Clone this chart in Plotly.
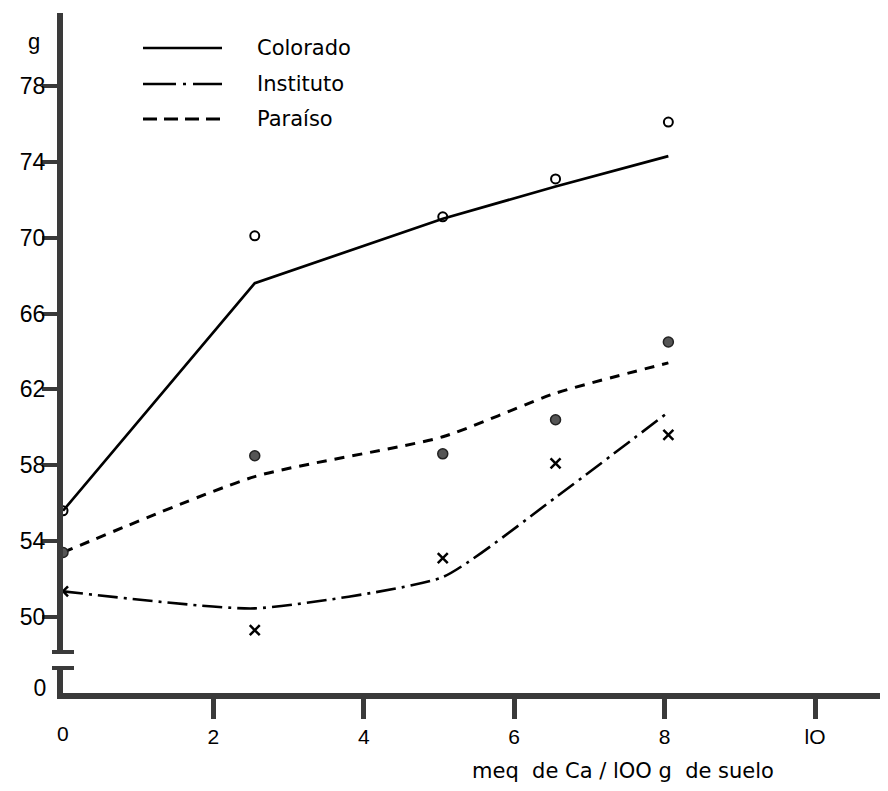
import plotly.graph_objects as go

# ---- data ----
x_obs = [0, 2.55, 5.05, 6.55, 8.05]

colorado_obs = [55.6, 70.1, 71.1, 73.1, 76.1]
colorado_fit = [55.6, 67.6, 71.0, 72.7, 74.3]

instituto_obs = [51.35, 49.3, 53.1, 58.1, 59.6]
instituto_fit = [51.35, 50.45, 52.1, 56.3, 60.8]

paraiso_obs = [53.4, 58.5, 58.6, 60.4, 64.5]
paraiso_fit = [53.4, 57.4, 59.5, 61.8, 63.4]

series_names = ["Colorado", "Instituto", "Paraíso"]
y_ticks = [50, 54, 58, 62, 66, 70, 74, 78]
x_ticks = [2, 4, 6, 8, 10]
x_tick_labels = ["2", "4", "6", "8", "lO"]
x_zero_label = "0"
y_break_ticks = [0]
x_title = "meq  de Ca / lOO g  de suelo"
y_title = "g"

# ---- styling / geometry (reference pixel space, page has 8px body margin) ----
FONT = "Liberation Sans, Arial, sans-serif"
TFONT = "DejaVu Sans, Liberation Sans, sans-serif"
AXC = "#3a3a3a"
OFF = 8
W, H = 888 - OFF, 791 - OFF
PLOT_LEFT, PLOT_TOP, PLOT_BOTTOM = 63, 13, 693          # reference pixels
L = PLOT_LEFT - OFF
T = PLOT_TOP - OFF
B = H - (PLOT_BOTTOM - OFF)
R = 0
plot_w = W - L - R
plot_h = H - T - B
px_per_x = 75.2
y_up_lo, y_up_hi = 48.15, 81.85

def py(pix):  # reference pixel y -> paper
    return (PLOT_BOTTOM - pix) / plot_h

def px(pix):  # reference pixel x -> paper
    return (pix - PLOT_LEFT) / plot_w

fig = go.Figure()

DASH_INST = "20px,6px,3px,6px"
DASH_PAR = "10px,8px"
LEG_DASH_INST = "33px,7px,3px,7px,40px"
LEG_DASH_PAR = "14px,7px"

fig.add_trace(go.Scatter(x=x_obs, y=colorado_fit, mode="lines",
                         line=dict(color="black", width=2.7), showlegend=False))
fig.add_trace(go.Scatter(x=x_obs, y=paraiso_fit, mode="lines",
                         line=dict(color="black", width=3, dash=DASH_PAR, shape="spline", smoothing=0.6),
                         showlegend=False))
fig.add_trace(go.Scatter(x=x_obs, y=instituto_fit, mode="lines",
                         line=dict(color="black", width=2.6, dash=DASH_INST, shape="spline", smoothing=0.5),
                         showlegend=False))

fig.add_trace(go.Scatter(x=x_obs, y=colorado_obs, mode="markers", name=series_names[0],
                         marker=dict(symbol="circle-open", size=9, color="black", line=dict(width=2)),
                         showlegend=False))
fig.add_trace(go.Scatter(x=x_obs, y=paraiso_obs, mode="markers", name=series_names[2],
                         marker=dict(symbol="circle", size=10, color="#555555", line=dict(width=1.5, color="#222222")),
                         showlegend=False))
fig.add_trace(go.Scatter(x=x_obs, y=instituto_obs, mode="markers", name=series_names[1],
                         marker=dict(symbol="x-thin", size=10, color="black", line=dict(width=2.5, color="black")),
                         showlegend=False))
# empty helper trace so that the lower (broken) y-axis segment exists
fig.add_trace(go.Scatter(x=[None], y=[None], xaxis="x", yaxis="y2", mode="markers",
                         showlegend=False, hoverinfo="skip"))

fig.update_layout(
    width=W, height=H,
    margin=dict(l=L, r=R, t=T, b=B, autoexpand=False),
    paper_bgcolor="white", plot_bgcolor="white",
    font=dict(family=FONT, color="black"),
    showlegend=False,
    xaxis=dict(range=[0, plot_w / px_per_x], anchor="y2", showgrid=False, zeroline=False,
               showline=True, linecolor=AXC, linewidth=6,
               tickmode="array", tickvals=x_ticks, ticktext=x_tick_labels,
               ticks="outside", ticklen=20, tickwidth=5, tickcolor=AXC,
               tickfont=dict(size=21, family=FONT)),
    yaxis=dict(domain=[py(652), 1], range=[y_up_lo, y_up_hi], anchor="x",
               showgrid=False, zeroline=False, showline=True, linecolor=AXC, linewidth=6,
               tickmode="array", tickvals=y_ticks,
               ticks="outside", ticklen=15, tickwidth=4, tickcolor=AXC,
               ticklabelstandoff=-8,
               tickfont=dict(size=23, family=FONT)),
    yaxis2=dict(domain=[0, py(668)], range=[-0.25, 1], anchor="x",
                showgrid=False, zeroline=False, showline=True, linecolor=AXC, linewidth=6,
                tickmode="array", tickvals=y_break_ticks, ticks="",
                ticklabelstandoff=6,
                tickfont=dict(size=23, family=FONT)),
)

shapes = []
# axis-break caps
for yp in (652, 668):
    shapes.append(dict(type="line", xref="paper", yref="paper",
                       x0=px(PLOT_LEFT - 11), x1=px(PLOT_LEFT + 11), y0=py(yp), y1=py(yp),
                       line=dict(color=AXC, width=4)))

# legend samples
leg_rows = [(48, "solid", 2.5), (84, LEG_DASH_INST, 2.5), (119, LEG_DASH_PAR, 3)]
for (ypix, dash, w), name in zip(leg_rows, series_names):
    shapes.append(dict(type="line", xref="paper", yref="paper",
                       x0=px(143), x1=px(222), y0=py(ypix), y1=py(ypix),
                       line=dict(color="black", width=w, dash=dash)))
fig.update_layout(shapes=shapes)

annotations = []
for (ypix, _, _), name in zip(leg_rows, series_names):
    annotations.append(dict(xref="paper", yref="paper", x=px(255), y=py(ypix),
                            text=name, showarrow=False, xanchor="left", yanchor="middle",
                            font=dict(size=21, family=TFONT)))
annotations.append(dict(xref="paper", yref="paper", x=px(34), y=py(42), text=y_title,
                        showarrow=False, xanchor="center", yanchor="middle",
                        font=dict(size=22, family=FONT)))
annotations.append(dict(xref="paper", yref="paper", x=px(623), y=py(771), text=x_title,
                        showarrow=False, xanchor="center", yanchor="middle",
                        font=dict(size=21, family=TFONT)))
annotations.append(dict(xref="x", yref="paper", x=0, y=py(733), text=x_zero_label,
                        showarrow=False, xanchor="center", yanchor="middle",
                        font=dict(size=21, family=FONT)))
fig.update_layout(annotations=annotations)

fig.write_html("out.html")
